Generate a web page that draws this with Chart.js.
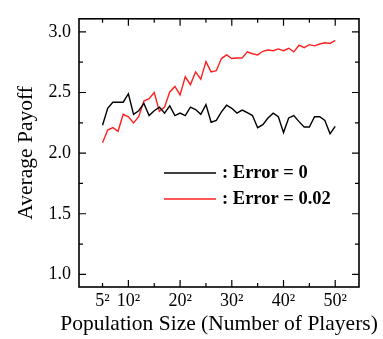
<!DOCTYPE html>
<html>
<head>
<meta charset="utf-8">
<script src="https://cdn.jsdelivr.net/npm/chart.js@4"></script>
<style>
  body { margin: 0; background: #fff; }
  canvas { display: block; }
</style>
</head>
<body>
<canvas id="chart" width="383" height="339"></canvas>
<script>
// side length n of the n x n population
const sides = [5, 6, 7, 8, 9, 10, 11, 12, 13, 14, 15, 16, 17, 18, 19, 20, 21, 22, 23, 24, 25, 26, 27,
  28, 29, 30, 31, 32, 33, 34, 35, 36, 37, 38, 39, 40, 41, 42, 43, 44, 45, 46, 47, 48, 49, 50];
const payoffError0 = [2.23, 2.37, 2.42, 2.42, 2.42, 2.49, 2.32, 2.35, 2.41, 2.31, 2.35, 2.38, 2.33,
  2.39, 2.31, 2.33, 2.31, 2.38, 2.36, 2.32, 2.40, 2.255, 2.27, 2.34, 2.395, 2.37, 2.33, 2.355, 2.335,
  2.31, 2.21, 2.235, 2.29, 2.33, 2.30, 2.17, 2.29, 2.31, 2.26, 2.215, 2.215, 2.30, 2.30, 2.27, 2.16, 2.22];
const payoffError002 = [2.085, 2.19, 2.21, 2.18, 2.32, 2.30, 2.25, 2.30, 2.43, 2.45, 2.50, 2.345, 2.38,
  2.505, 2.55, 2.48, 2.63, 2.565, 2.67, 2.61, 2.755, 2.67, 2.68, 2.78, 2.81, 2.78, 2.785, 2.785, 2.835,
  2.82, 2.81, 2.84, 2.85, 2.845, 2.86, 2.845, 2.865, 2.835, 2.89, 2.87, 2.895, 2.885, 2.90, 2.91, 2.905, 2.93];
const seriesLabels = [": Error = 0", ": Error = 0.02"];
const seriesColors = ["#000000", "#ff2020"];
const xTitle = "Population Size (Number of Players)";

const xTickLabels = [5, 10, 20, 30, 40, 50];
const xMajor = [10, 20, 30, 40, 50];
const xMinor = [5, 15, 25, 35, 45];
const yTickLabels = [1.0, 1.5, 2.0, 2.5, 3.0];
const yMinor = [1.25, 1.75, 2.25, 2.75];

Chart.defaults.font.family = '"Liberation Serif", "Times New Roman", serif';
Chart.defaults.color = "#000";

// frame, inside ticks, x title (wider than the plot) and the legend
const framePlugin = {
  id: "frame",
  afterDraw(chart) {
    const ctx = chart.ctx;
    const a = chart.chartArea;
    const x = chart.scales.x;
    const y = chart.scales.y;
    ctx.save();
    ctx.strokeStyle = "#000";
    ctx.lineWidth = 1.2;
    ctx.beginPath();
    xMajor.concat(xMinor).forEach(function (v) {
      const len = xMajor.includes(v) ? 7 : 4;
      const px = x.getPixelForValue(v);
      ctx.moveTo(px, a.bottom); ctx.lineTo(px, a.bottom - len);
      ctx.moveTo(px, a.top); ctx.lineTo(px, a.top + len);
    });
    yTickLabels.concat(yMinor).forEach(function (v) {
      const len = yTickLabels.includes(v) ? 7 : 4;
      const py = y.getPixelForValue(v);
      ctx.moveTo(a.left, py); ctx.lineTo(a.left + len, py);
      ctx.moveTo(a.right, py); ctx.lineTo(a.right - len, py);
    });
    ctx.stroke();
    ctx.lineWidth = 1.6;
    ctx.strokeRect(a.left, a.top, a.right - a.left, a.bottom - a.top);

    ctx.fillStyle = "#000";
    ctx.textBaseline = "alphabetic";

    // x title
    ctx.font = "21.5px 'Liberation Serif', serif";
    ctx.textAlign = "center";
    ctx.fillText(xTitle, (a.left + a.right) / 2, 330);

    // legend
    ctx.textAlign = "left";
    ctx.font = "bold 18.5px 'Liberation Serif', serif";
    chart.data.datasets.forEach(function (ds, i) {
      const ly = 173 + i * 26;
      ctx.strokeStyle = ds.borderColor;
      ctx.lineWidth = 1.6;
      ctx.beginPath();
      ctx.moveTo(164, ly);
      ctx.lineTo(216, ly);
      ctx.stroke();
      ctx.fillText(ds.label, 222, ly + 4.5);
    });
    ctx.restore();
  }
};

const ctx = document.getElementById("chart").getContext("2d");
new Chart(ctx, {
  type: "line",
  data: {
    datasets: [
      {
        label: seriesLabels[0],
        data: sides.map((n, i) => ({ x: n, y: payoffError0[i] })),
        borderColor: seriesColors[0],
        borderWidth: 1.4,
        pointRadius: 0,
        fill: false,
      },
      {
        label: seriesLabels[1],
        data: sides.map((n, i) => ({ x: n, y: payoffError002[i] })),
        borderColor: seriesColors[1],
        borderWidth: 1.4,
        pointRadius: 0,
        fill: false,
      },
    ],
  },
  options: {
    responsive: false,
    devicePixelRatio: 1,
    animation: false,
    layout: { padding: { left: 0, top: 7, right: 24, bottom: 0 } },
    plugins: { legend: { display: false }, tooltip: { enabled: false } },
    scales: {
      x: {
        type: "linear",
        min: 0.45,
        max: 54.6,
        grid: { display: false, drawTicks: false },
        border: { display: false },
        afterBuildTicks: (s) => { s.ticks = xTickLabels.map((v) => ({ value: v })); },
        afterFit: (s) => { s.height = 52; },
        ticks: {
          font: { size: 18 },
          padding: 3,
          maxRotation: 0,
          callback: (v) => v + "\u00B2",
        },
      },
      y: {
        min: 0.896,
        max: 3.108,
        grid: { display: false, drawTicks: false },
        border: { display: false },
        afterBuildTicks: (s) => { s.ticks = yTickLabels.map((v) => ({ value: v })); },
        afterFit: (s) => { s.width = 79; },
        ticks: {
          font: { size: 18 },
          padding: 8,
          callback: (v) => v.toFixed(1),
        },
        title: {
          display: true,
          text: "Average Payoff",
          font: { size: 21.5 },
          padding: { top: 13, bottom: 0 },
        },
      },
    },
  },
  plugins: [framePlugin],
});
</script>
</body>
</html>
